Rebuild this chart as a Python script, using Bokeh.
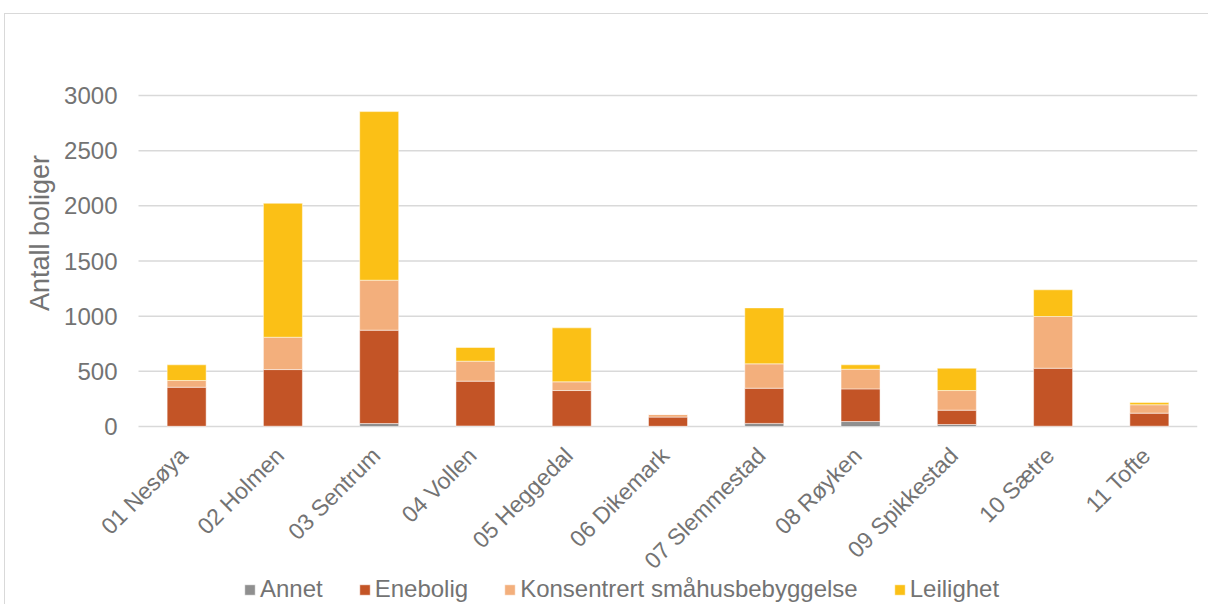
import math
from bokeh.plotting import figure
from bokeh.models import Legend, LegendItem, ColumnDataSource, Range1d
from bokeh.core.properties import value
from bokeh.embed import file_html
from bokeh.resources import INLINE

categories = ["01 Nesøya", "02 Holmen", "03 Sentrum", "04 Vollen", "05 Heggedal",
              "06 Dikemark", "07 Slemmestad", "08 Røyken", "09 Spikkestad", "10 Sætre", "11 Tofte"]
annet = [2, 3, 27, 5, 3, 2, 28, 45, 18, 3, 3]
enebolig = [354, 513, 846, 406, 323, 83, 319, 296, 130, 525, 118]
konsentrert = [61, 293, 453, 181, 79, 24, 221, 178, 178, 469, 76]
leilighet = [142, 1214, 1528, 124, 489, 0, 507, 40, 202, 242, 20]
series = ["Annet", "Enebolig", "Konsentrert småhusbebyggelse", "Leilighet"]
colors = ["#8f8f8f", "#c35426", "#f3af7c", "#fbc016"]
yticks = [0, 500, 1000, 1500, 2000, 2500, 3000]
ytick_labels = [str(t) for t in yticks]
y_title = "Antall boliger"

n = len(categories)
xpos = [i + 0.5 for i in range(n)]  # category centres on a numeric scale

source = ColumnDataSource(data=dict(x=xpos, cat=categories, Annet=annet, Enebolig=enebolig,
                                    **{"Konsentrert småhusbebyggelse": konsentrert},
                                    Leilighet=leilighet))

FONT = "Liberation Sans"
GRAY = "#737373"

# screen geometry (px): plot area 138..1197 wide, value 0 at y=426, 3000 at y=95
cat_px = 1059 / n
px_per_unit = 331 / yticks[-1]
frame_left, frame_top, frame_bottom = 5, 14, 604
x_range = Range1d(-(138 - frame_left) / cat_px, n)
y_range = Range1d(-(frame_bottom - 426) / px_per_unit, yticks[-1] + (95 - frame_top) / px_per_unit)

p = figure(x_range=x_range, y_range=y_range, frame_width=1197 - frame_left,
           frame_height=frame_bottom - frame_top,
           output_backend="svg", toolbar_location=None,
           min_border_left=0, min_border_right=11, min_border_top=0, min_border_bottom=0)
p.margin = (13, 0, 0, 4)
p.styles = {"border-top": "1px solid #d9d9d9", "border-left": "1px solid #d9d9d9"}
p.outline_line_color = None
p.xaxis.visible = False
p.yaxis.visible = False
p.grid.visible = False

# gridlines
p.segment(x0=0, x1=n, y0=yticks, y1=yticks, line_color="#d9d9d9", line_width=1.5)

renderers = p.vbar_stack(series, x="x", width=0.405, source=source, color=colors,
                         line_color="white", line_width=0.8, line_alpha=0.6)

# value-axis labels
p.text(x=0, y=yticks, text=ytick_labels, text_align="right", text_baseline="middle",
       x_offset=-21, text_font=value(FONT), text_font_size=value("24px"), text_color=GRAY)

# value-axis title
p.text(x=0, y=(yticks[0] + yticks[-1]) / 2, text=[y_title], angle=math.pi / 2,
       text_align="center", text_baseline="middle", x_offset=-99, y_offset=-28,
       text_font=value(FONT), text_font_size=value("27px"), text_color=GRAY)

# category labels, rotated 45 degrees, ending at each category centre
p.text(x="x", y=0, text="cat", source=source, angle=math.pi / 4,
       text_align="right", text_baseline="middle", x_offset=-3, y_offset=25,
       text_font=value(FONT), text_font_size=value("23px"), text_color=GRAY)

items = [LegendItem(label=s, renderers=[r]) for s, r in zip(series, renderers)]
legend = Legend(items=items, orientation="horizontal", location=(238, 1),
                label_text_font=FONT, label_text_font_size="24px", label_text_color=GRAY,
                glyph_width=13, glyph_height=13, spacing=35, label_standoff=4,
                border_line_color=None, background_fill_alpha=0, padding=0, margin=0)
p.add_layout(legend, "center")

open("out.html", "w").write(file_html(p, INLINE))
